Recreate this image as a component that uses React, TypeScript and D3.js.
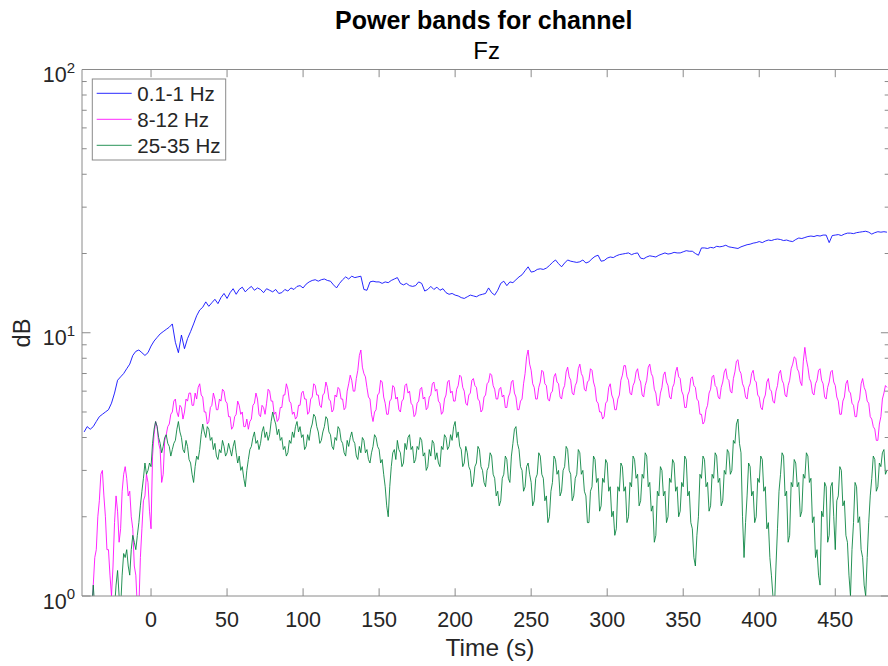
import React from "react";
import * as d3 from "d3";

// ---- data ----
// 0.1-1 Hz band: sampled every 2 s starting at t = -44 s
const BLUE_T_START = -44;
const BLUE_T_STEP = 2;
const band01to1: number[] = [
  4.2,4.4,4.3,4.4,4.6,4.8,4.9,5.0,5.1,5.4,
  5.9,6.6,6.8,7.0,7.3,7.6,8.2,8.5,8.6,8.4,
  8.2,8.4,8.9,9.3,9.6,9.9,10.1,10.3,10.5,10.8,
  9.2,8.4,9.8,8.7,9.5,10.1,10.8,11.6,12.2,12.5,
  13.1,12.6,13.0,13.4,12.9,13.6,14.1,13.5,14.2,14.7,
  14.0,14.6,14.9,14.3,14.7,15.0,14.5,14.8,14.6,14.2,
  14.7,14.5,14.3,14.6,14.1,14.2,14.6,14.4,14.8,14.6,
  15.0,15.1,14.8,15.3,15.6,15.8,15.9,15.7,15.9,16.0,
  15.8,15.7,15.2,14.8,15.4,15.9,16.3,16.0,16.4,16.2,
  16.3,16.4,14.6,14.5,15.6,15.7,15.6,15.6,15.4,15.6,
  15.5,15.8,16.0,16.2,15.4,15.2,15.4,15.1,15.0,15.1,
  15.6,15.4,14.4,14.6,15.0,14.6,14.9,14.5,14.7,14.2,
  14.0,14.1,13.9,13.8,13.6,13.5,13.7,13.9,13.8,13.7,
  13.9,14.0,14.1,14.8,14.2,13.9,14.5,15.4,15.7,15.1,
  15.6,15.5,15.9,16.3,16.6,17.2,17.8,17.0,17.1,17.4,
  17.5,17.4,17.6,18.0,18.5,18.9,18.3,17.8,18.4,18.9,
  18.7,18.6,18.5,18.6,18.9,18.4,18.6,19.1,19.5,19.7,
  18.7,18.8,19.2,19.4,19.3,19.6,19.8,19.9,20.0,20.1,
  19.8,20.0,20.1,19.2,19.1,19.4,19.6,19.5,19.4,19.7,
  19.9,20.1,19.9,20.0,20.2,20.1,20.1,20.3,20.5,20.4,
  20.4,20.0,19.7,21.0,21.0,20.9,21.1,21.0,21.3,21.2,
  21.3,21.5,21.2,21.1,21.0,20.9,21.2,21.4,21.6,21.7,
  21.9,22.0,22.2,22.0,22.3,22.5,22.4,22.6,22.7,22.6,
  22.4,22.5,22.3,22.2,22.6,22.9,22.8,23.0,23.2,23.3,
  23.2,23.4,23.3,23.5,23.5,22.0,23.4,23.5,23.6,23.4,
  23.7,23.9,23.9,23.8,24.0,24.1,24.2,24.3,24.1,23.7,
  24.0,24.2,24.1,24.2,24.1,
];

// 8-12 Hz and 25-35 Hz bands: sampled every 1 s starting at t = -44 s
const HF_T_START = -44;
const HF_T_STEP = 1;
const band8to12: number[] = [
  0.7,0.5,0.6,0.8,0.8,0.7,1.1,1.4,1.5,2.0,
  2.3,2.9,3.0,2.4,2.0,1.5,1.5,1.2,1.0,1.3,
  1.9,2.4,2.1,1.6,1.8,2.5,2.9,3.1,2.8,2.4,
  2.5,2.0,1.8,1.3,1.2,0.9,0.9,1.4,1.8,2.3,
  2.4,2.9,2.7,2.1,1.8,3.4,4.1,4.6,4.4,3.8,
  3.6,2.7,2.9,3.9,4.1,4.4,4.5,4.9,5.0,5.5,
  5.6,5.0,4.8,5.3,5.2,4.7,5.0,5.6,5.5,5.9,
  5.9,5.3,5.3,5.9,5.6,6.2,6.4,5.8,5.7,5.0,
  5.0,4.5,4.6,5.2,5.3,5.9,5.6,5.1,5.1,5.6,
  5.5,6.1,6.0,5.5,5.4,4.8,4.8,4.3,4.4,4.8,
  4.9,5.5,5.3,4.9,5.0,4.4,4.4,4.7,4.3,4.6,
  4.7,5.3,5.4,5.9,5.6,4.9,4.8,5.3,5.2,4.9,
  5.4,6.1,6.0,5.5,5.5,4.9,5.0,4.6,4.7,5.2,
  5.2,5.8,5.8,6.4,6.1,5.5,5.4,4.9,5.0,4.7,
  4.8,5.3,5.3,5.9,6.0,5.6,5.6,4.9,5.0,5.6,
  5.7,6.4,6.3,5.8,5.8,5.3,5.2,5.8,5.9,6.5,
  6.2,5.6,5.5,5.0,5.1,5.8,5.7,6.2,6.1,5.6,
  5.6,5.1,5.2,6.0,6.4,6.9,6.6,6.0,6.0,6.7,
  7.2,8.2,8.6,7.4,7.0,6.8,6.2,5.7,5.6,4.9,
  4.6,5.0,5.1,5.8,5.9,6.6,6.5,5.7,5.4,4.9,
  4.9,5.5,5.6,6.3,6.2,5.6,5.7,5.1,5.0,5.5,
  5.6,6.3,6.4,5.9,6.0,5.4,5.3,4.8,4.9,5.4,
  5.5,6.1,6.2,5.6,5.7,5.1,5.2,5.7,5.8,6.4,
  6.5,6.0,6.1,5.5,5.4,4.9,5.0,5.6,5.8,6.5,
  6.6,5.9,6.0,5.5,5.5,6.1,6.3,6.9,6.8,6.2,
  6.0,5.4,5.3,5.8,5.9,6.6,6.7,6.3,6.2,5.6,
  5.5,5.0,5.1,5.7,5.8,6.4,6.5,7.0,6.9,6.3,
  6.1,5.6,5.6,6.1,6.2,5.7,5.8,5.2,5.2,5.7,
  5.9,6.5,6.6,5.9,5.7,5.1,5.1,5.5,5.6,6.4,
  7.0,8.1,8.6,7.6,7.2,6.4,6.2,5.6,5.6,6.2,
  6.5,7.2,7.1,6.4,6.3,5.6,5.5,5.9,6.0,6.8,
  7.0,6.5,6.4,5.7,5.6,6.1,6.3,7.1,7.4,6.8,
  6.6,5.9,5.8,6.3,6.5,7.3,7.6,7.0,6.8,6.1,
  6.0,6.5,6.6,7.3,7.2,6.5,6.2,5.5,5.4,5.0,
  5.0,4.7,4.8,5.4,5.5,6.2,6.4,5.8,5.6,5.1,
  5.1,5.6,5.8,6.6,6.9,7.5,7.5,6.8,6.6,5.9,
  5.8,6.3,6.5,7.1,7.3,6.7,6.5,5.8,5.7,6.3,
  6.6,7.4,7.6,7.0,6.8,6.1,5.9,5.3,5.3,5.9,
  6.2,6.9,7.1,6.5,6.3,5.7,5.6,6.2,6.4,7.1,
  7.4,6.8,6.7,6.0,5.8,5.2,5.2,5.8,6.0,6.7,
  6.8,6.3,6.2,5.6,5.5,4.9,4.9,4.5,4.6,5.1,
  5.3,5.9,6.1,6.8,6.9,6.3,6.2,5.7,5.6,6.2,
  6.5,7.1,7.3,6.7,6.6,6.0,5.9,6.7,7.1,7.8,
  7.9,7.2,7.0,6.4,6.2,5.7,5.6,6.2,6.4,7.0,
  7.2,6.6,6.5,5.8,5.7,5.2,5.1,5.6,5.8,6.5,
  6.7,6.1,6.0,5.5,5.4,6.0,6.3,7.0,7.2,6.6,
  6.4,5.8,5.7,6.3,6.6,7.3,7.6,8.1,8.0,7.3,
  7.1,6.5,6.3,7.8,8.8,7.9,7.4,6.7,6.5,5.9,
  5.8,6.4,6.6,7.2,7.3,6.6,6.4,5.7,5.6,6.2,
  6.5,7.1,7.2,6.5,6.3,5.7,5.5,4.9,4.9,5.5,
  5.7,6.4,6.6,6.0,5.9,5.4,5.3,4.8,4.8,5.4,
  5.6,6.4,6.7,6.2,6.0,5.5,5.4,4.8,4.7,4.4,
  4.3,3.9,3.9,4.5,4.8,5.6,5.9,6.3,6.2,
];

const band25to35: number[] = [
  0.5,0.4,0.6,0.7,0.8,0.9,1.1,0.9,0.8,0.6,
  0.6,0.7,0.7,0.6,0.8,0.7,0.9,0.8,0.7,0.8,
  0.9,1.1,1.25,1.0,0.9,1.2,1.45,1.4,1.5,1.3,
  1.2,1.5,1.7,1.6,1.5,1.7,1.9,2.2,2.5,2.8,
  3.2,2.9,3.0,3.2,3.1,3.8,4.3,4.6,4.4,4.0,
  3.8,3.5,3.7,4.0,4.1,3.8,3.7,3.4,3.6,3.8,
  3.9,4.3,4.6,4.2,4.0,3.6,3.5,3.9,3.7,3.3,
  3.2,2.9,2.7,3.1,3.4,3.3,3.6,4.1,4.5,4.2,
  4.0,4.4,4.3,3.9,4.0,3.6,3.8,3.4,3.3,3.6,
  3.5,3.9,3.7,3.4,3.5,3.8,3.6,3.4,3.7,3.9,
  3.5,3.2,3.4,3.0,3.1,2.8,2.6,3.0,3.3,3.6,
  3.7,4.0,4.2,3.8,3.9,3.6,3.8,4.2,4.4,4.0,
  4.2,3.9,4.1,4.6,5.0,4.7,4.5,4.1,4.3,3.9,
  4.0,3.6,3.7,3.4,3.5,3.9,3.8,4.2,4.0,4.4,
  4.6,4.2,4.4,4.0,4.1,3.6,3.7,4.1,3.9,4.3,
  4.5,4.9,4.8,4.4,4.2,3.8,3.9,4.2,4.4,4.8,
  4.7,4.2,4.1,3.7,3.6,4.0,3.9,4.4,4.3,3.9,
  3.8,3.5,3.4,3.9,3.7,4.0,4.2,3.9,3.8,3.4,
  3.3,3.7,3.5,4.0,3.9,3.5,3.6,3.3,3.2,3.5,
  3.7,4.1,4.0,3.7,3.6,3.2,3.3,2.9,2.6,2.2,
  2.0,2.6,3.1,3.5,3.6,3.3,3.9,3.6,3.5,3.1,
  3.2,3.8,3.6,4.0,4.1,3.6,3.7,3.2,3.3,3.7,
  3.6,4.0,3.9,3.4,3.5,3.0,3.1,3.6,3.4,3.9,
  3.8,3.3,3.5,3.2,3.1,3.7,3.6,4.1,4.0,3.6,
  3.7,4.1,3.9,4.4,4.6,4.0,4.2,3.7,3.6,3.1,
  3.2,3.7,3.5,3.1,3.0,2.6,2.7,3.1,3.2,3.7,
  3.6,3.1,3.0,2.7,2.6,3.0,3.1,3.5,3.4,2.9,
  2.8,2.4,2.5,2.2,2.3,2.8,2.9,3.4,3.3,2.8,
  2.7,3.4,3.8,4.3,4.4,3.8,3.6,3.1,3.0,2.5,
  2.6,3.1,3.2,2.9,2.7,2.2,2.3,2.8,2.9,3.5,
  3.4,2.9,2.8,2.3,2.4,1.9,2.0,2.5,2.7,3.4,
  3.3,2.9,3.0,2.4,2.5,3.0,3.1,3.7,3.6,3.0,
  2.9,2.3,2.4,2.8,2.9,3.6,3.5,2.9,3.0,2.5,
  2.4,1.9,1.9,2.5,2.6,3.4,3.3,2.7,2.8,2.1,
  2.2,2.8,2.7,3.3,3.2,2.5,2.6,2.0,2.1,1.7,
  1.8,2.6,2.5,3.2,3.1,2.5,2.6,1.9,2.0,2.7,
  2.6,3.4,3.3,2.8,2.9,2.2,2.3,2.9,2.8,3.5,
  3.4,2.6,2.7,2.1,2.2,1.6,1.7,2.5,2.4,3.1,
  3.0,2.4,2.5,1.9,2.0,2.8,2.7,3.3,3.2,2.5,
  2.6,2.0,2.1,2.7,2.6,3.4,3.3,2.4,2.5,1.9,
  1.8,1.4,1.3,1.7,2.0,2.9,2.8,3.4,3.3,2.6,
  2.7,2.1,2.2,2.9,2.8,3.5,3.4,2.7,2.8,2.2,
  2.3,3.0,2.9,3.6,3.5,2.9,3.0,3.9,3.8,4.5,
  4.7,3.8,3.5,2.0,1.4,1.9,2.4,3.2,3.1,2.4,
  2.5,1.9,2.0,2.8,2.7,3.4,3.3,2.5,2.6,1.8,
  1.9,1.4,1.2,1.0,0.9,1.3,1.8,2.5,2.9,3.5,
  3.4,2.4,2.5,1.6,1.7,2.7,2.6,3.3,3.2,2.6,
  2.7,2.0,2.1,2.9,2.8,3.5,3.4,2.7,2.8,1.9,
  2.0,1.4,1.5,1.2,1.1,2.1,2.0,2.7,2.6,1.6,
  1.7,2.6,2.7,2.0,1.5,2.3,2.4,3.1,3.0,2.2,
  2.3,1.7,1.6,1.2,1.0,1.5,1.9,2.7,2.6,1.9,
  2.0,1.5,1.4,1.1,1.0,1.4,1.9,2.4,2.8,3.4,
  3.3,2.5,2.6,3.2,3.1,3.5,3.6,2.9,3.0,
];

const seriesNames = ["0.1-1 Hz", "8-12 Hz", "25-35 Hz"];
const seriesColors = ["#0000ff", "#ff00ff", "#00803a"];
const xTickValues = [0, 50, 100, 150, 200, 250, 300, 350, 400, 450];
const yMajorExponents = [0, 1, 2];
const xDomain: [number, number] = [-45.4, 485.6];
const yDomain: [number, number] = [1, 100];

const W = 888;
const H = 666;
const L = 82;
const R = 889.4;
const T = 69.5;
const B = 596;

const FONT = "'Liberation Sans', Arial, Helvetica, sans-serif";
const AX = "#8a8a8a";
const TXT = "#262626";

export default function App() {
  const x = d3.scaleLinear().domain(xDomain).range([L, R]);
  const y = d3.scaleLog().domain(yDomain).range([B, T]);

  const makeLine = (start: number, step: number) =>
    d3
      .line<number>()
      .x((_, i) => x(start + i * step))
      .y((v) => y(Math.max(v, 0.3)));

  const series = [
    { data: band01to1, gen: makeLine(BLUE_T_START, BLUE_T_STEP) },
    { data: band8to12, gen: makeLine(HF_T_START, HF_T_STEP) },
    { data: band25to35, gen: makeLine(HF_T_START, HF_T_STEP) },
  ];

  const minor: number[] = [];
  [1, 10].forEach((dec) => {
    for (let k = 2; k <= 9; k++) minor.push(dec * k);
  });

  const cx = (L + R) / 2 - 2;

  return (
    <svg
      width={W}
      height={H}
      style={{ position: "absolute", left: 0, top: 0, background: "#fff" }}
      fontFamily={FONT}
    >
      <rect x={0} y={0} width={W} height={H} fill="#fff" />
      <defs>
        <clipPath id="plot">
          <rect x={L} y={T} width={R - L} height={B - T} />
        </clipPath>
      </defs>
      <g clipPath="url(#plot)">
        {series.map((s, i) => (
          <path
            key={i}
            d={s.gen(s.data) || ""}
            fill="none"
            stroke={seriesColors[i]}
            strokeWidth={0.85}
            strokeLinejoin="round"
          />
        ))}
      </g>
      {/* axes box */}
      <g stroke={AX} strokeWidth={1} fill="none">
        <line x1={L} y1={T} x2={R} y2={T} />
        <line x1={L} y1={B} x2={R} y2={B} />
        <line x1={L} y1={T} x2={L} y2={B} />
        <line x1={R} y1={T} x2={R} y2={B} />
      </g>
      {/* ticks */}
      <g stroke={AX} strokeWidth={1}>
        {xTickValues.map((t) => (
          <g key={t}>
            <line x1={x(t)} x2={x(t)} y1={B} y2={B - 7.7} />
            <line x1={x(t)} x2={x(t)} y1={T} y2={T + 7.7} />
          </g>
        ))}
        {yMajorExponents.map((e) => (
          <g key={e}>
            <line x1={L} x2={L + 8.5} y1={y(10 ** e)} y2={y(10 ** e)} />
            <line x1={R} x2={R - 8.5} y1={y(10 ** e)} y2={y(10 ** e)} />
          </g>
        ))}
        {minor.map((v) => (
          <g key={v}>
            <line x1={L} x2={L + 4.7} y1={y(v)} y2={y(v)} />
            <line x1={R} x2={R - 4.7} y1={y(v)} y2={y(v)} />
          </g>
        ))}
      </g>
      {/* x tick labels */}
      <g fill={TXT} fontSize={21.5} textAnchor="middle">
        {xTickValues.map((t) => (
          <text key={t} x={x(t)} y={627.3}>
            {t}
          </text>
        ))}
      </g>
      {/* y tick labels */}
      <g fill={TXT} textAnchor="end">
        {yMajorExponents.map((e) => (
          <text key={e} x={75} y={y(10 ** e) + 12.5} fontSize={21.5}>
            <tspan>10</tspan>
            <tspan dy={-9.5} fontSize={15}>
              {e}
            </tspan>
          </text>
        ))}
      </g>
      {/* axis labels */}
      <text x={490} y={656} fontSize={24.5} fill={TXT} textAnchor="middle">
        Time (s)
      </text>
      <text
        transform={`translate(30,333) rotate(-90)`}
        fontSize={23.5}
        fill={TXT}
        textAnchor="middle"
      >
        dB
      </text>
      {/* title */}
      <text x={cx} y={28.5} fontSize={25} fontWeight="bold" fill="#000" textAnchor="middle">
        Power bands for channel
      </text>
      <text x={cx + 3} y={59.3} fontSize={24} fill="#000" textAnchor="middle">
        Fz
      </text>
      {/* legend */}
      <rect x={92.3} y={79} width={133.4} height={81} fill="#fff" stroke={AX} strokeWidth={1} />
      {seriesNames.map((n, i) => (
        <g key={n}>
          <line
            x1={96.7}
            x2={131.7}
            y1={93.3 + i * 26}
            y2={93.3 + i * 26}
            stroke={seriesColors[i]}
            strokeWidth={0.85}
          />
          <text x={137.3} y={93.3 + i * 26 + 7.5} fontSize={20.5} fill={TXT}>
            {n}
          </text>
        </g>
      ))}
    </svg>
  );
}
